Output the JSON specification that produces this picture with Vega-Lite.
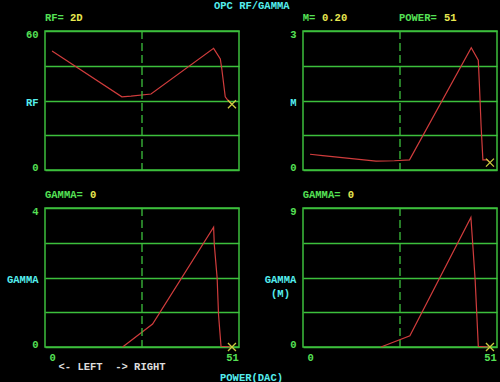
{
  "$schema": "https://vega.github.io/schema/vega-lite/v6.json",
  "background": "#000000",
  "padding": {"left": 5, "top": 0, "right": 3, "bottom": 0},
  "title": {"text": "OPC RF/GAMMA", "color": "#55eeee", "font": "Liberation Mono", "fontSize": 10.5, "fontWeight": "bold", "anchor": "middle", "offset": 1},
  "columns": 2,
  "spacing": {"row": 38, "column": 64},
  "bounds": "flush",
  "concat": [
    {
      "width": 194, "height": 139,
      "layer": [
        {
          "data": {"values": [
            {"x": 0, "y": 51.4}, {"x": 19.8, "y": 31.6}, {"x": 22.4, "y": 31.9}, {"x": 28.05, "y": 32.8},
            {"x": 45.8, "y": 52.5}, {"x": 47.7, "y": 47.9}, {"x": 48.1, "y": 43.9}, {"x": 49.1, "y": 31.6},
            {"x": 49.8, "y": 30.2}, {"x": 51, "y": 28.4}
          ]},
          "mark": {"type": "line", "color": "#d03c3c", "strokeWidth": 1.2},
          "encoding": {
            "x": {"field": "x", "type": "quantitative", "scale": {"domain": [-2, 53], "nice": false, "zero": false}, "axis": null},
            "y": {"field": "y", "type": "quantitative", "scale": {"domain": [0, 60], "nice": false},
                  "axis": {"values": [0, 15, 30, 45, 60], "tickCount": 10, "labelExpr": "datum.value == 0 ? '0' : datum.value == 60 ? '60' : ''",
                           "labelFlush": true, "labelFlushOffset": 2, "labelPadding": 7, "grid": true,
                           "title": "RF", "titleAngle": 0, "titleAlign": "right", "titleBaseline": "middle", "titleX": -7, "titleY": 71, "titleColor": "#55eeee"}}
          }
        },
        {
          "data": {"values": [{"x": 25.5}]},
          "mark": {"type": "rule", "color": "#3cbf3c", "strokeWidth": 1.3, "strokeDash": [8, 4]},
          "encoding": {"x": {"field": "x", "type": "quantitative"}}
        },
        {
          "data": {"values": [{"x": 51, "y": 28.4}]},
          "mark": {"type": "point", "shape": "M-1,-1L1,1M1,-1L-1,1", "size": 64, "filled": false, "color": "#cccc40", "strokeWidth": 1.3, "opacity": 1},
          "encoding": {"x": {"field": "x", "type": "quantitative"}, "y": {"field": "y", "type": "quantitative"}}
        },
        {
          "data": {"values": [
            {"x": -2, "y": 65.6, "t": "RF=", "k": "label"}, {"x": 5.09, "y": 65.6, "t": "2D", "k": "value"}
          ]},
          "mark": {"type": "text", "font": "Liberation Mono", "fontSize": 10.5, "fontWeight": "bold", "align": "left", "baseline": "middle"},
          "encoding": {
            "x": {"field": "x", "type": "quantitative"},
            "y": {"field": "y", "type": "quantitative"},
            "text": {"field": "t"},
            "color": {"field": "k", "type": "nominal", "scale": {"domain": ["label", "value"], "range": ["#55e055", "#e8e850"]}, "legend": null}
          }
        }
      ]
    },
    {
      "width": 194, "height": 139,
      "layer": [
        {
          "data": {"values": [
            {"x": 0, "y": 0.34}, {"x": 3.6, "y": 0.31}, {"x": 18.7, "y": 0.19}, {"x": 23.9, "y": 0.2}, {"x": 28.2, "y": 0.22},
            {"x": 45.7, "y": 2.64}, {"x": 47.7, "y": 2.37}, {"x": 48.0, "y": 1.86}, {"x": 48.5, "y": 0.94}, {"x": 49.0, "y": 0.22},
            {"x": 50.3, "y": 0.22}, {"x": 51, "y": 0.16}
          ]},
          "mark": {"type": "line", "color": "#d03c3c", "strokeWidth": 1.2},
          "encoding": {
            "x": {"field": "x", "type": "quantitative", "scale": {"domain": [-2, 53], "nice": false, "zero": false}, "axis": null},
            "y": {"field": "y", "type": "quantitative", "scale": {"domain": [0, 3], "nice": false},
                  "axis": {"values": [0, 0.75, 1.5, 2.25, 3], "tickCount": 10, "labelExpr": "datum.value == 0 ? '0' : datum.value == 3 ? '3' : ''",
                           "labelFlush": true, "labelFlushOffset": 2, "labelPadding": 7, "grid": true,
                           "title": "M", "titleAngle": 0, "titleAlign": "right", "titleBaseline": "middle", "titleX": -7, "titleY": 71, "titleColor": "#55eeee"}}
          }
        },
        {
          "data": {"values": [{"x": 25.5}]},
          "mark": {"type": "rule", "color": "#3cbf3c", "strokeWidth": 1.3, "strokeDash": [8, 4]},
          "encoding": {"x": {"field": "x", "type": "quantitative"}}
        },
        {
          "data": {"values": [{"x": 51, "y": 0.16}]},
          "mark": {"type": "point", "shape": "M-1,-1L1,1M1,-1L-1,1", "size": 64, "filled": false, "color": "#cccc40", "strokeWidth": 1.3, "opacity": 1},
          "encoding": {"x": {"field": "x", "type": "quantitative"}, "y": {"field": "y", "type": "quantitative"}}
        },
        {
          "data": {"values": [
            {"x": -2.08, "y": 3.28, "t": "M=", "k": "label"}, {"x": 3.39, "y": 3.28, "t": "0.20", "k": "value"},
            {"x": 25.2, "y": 3.28, "t": "POWER=", "k": "label"}, {"x": 37.97, "y": 3.28, "t": "51", "k": "value"}
          ]},
          "mark": {"type": "text", "font": "Liberation Mono", "fontSize": 10.5, "fontWeight": "bold", "align": "left", "baseline": "middle"},
          "encoding": {
            "x": {"field": "x", "type": "quantitative"},
            "y": {"field": "y", "type": "quantitative"},
            "text": {"field": "t"},
            "color": {"field": "k", "type": "nominal", "scale": {"domain": ["label", "value"], "range": ["#55e055", "#e8e850"]}, "legend": null}
          }
        }
      ]
    },
    {
      "width": 194, "height": 139,
      "layer": [
        {
          "data": {"values": [
            {"x": 20.0, "y": 0}, {"x": 28.5, "y": 0.66}, {"x": 45.8, "y": 3.45}, {"x": 46.0, "y": 2.94}, {"x": 46.8, "y": 1.99},
            {"x": 47.2, "y": 0.93}, {"x": 47.9, "y": 0.02}, {"x": 51, "y": 0}
          ]},
          "mark": {"type": "line", "color": "#d03c3c", "strokeWidth": 1.2},
          "encoding": {
            "x": {"field": "x", "type": "quantitative", "scale": {"domain": [-2, 53], "nice": false, "zero": false},
                  "axis": {"values": [0, 51], "format": "d", "labelPadding": 5, "labelFlush": false, "grid": false,
                           "title": "<- LEFT\u00a0\u00a0-> RIGHT", "titleColor": "#dddddd", "titleAlign": "left", "titleBaseline": "middle", "titleX": 13, "titleY": 19.4}},
            "y": {"field": "y", "type": "quantitative", "scale": {"domain": [0, 4], "nice": false},
                  "axis": {"values": [0, 1, 2, 3, 4], "tickCount": 10, "labelExpr": "datum.value == 0 ? '0' : datum.value == 4 ? '4' : ''",
                           "labelFlush": true, "labelFlushOffset": 2, "labelPadding": 7, "grid": true,
                           "title": "GAMMA", "titleAngle": 0, "titleAlign": "right", "titleBaseline": "middle", "titleX": -7, "titleY": 71.7, "titleColor": "#55eeee"}}
          }
        },
        {
          "data": {"values": [{"x": 25.5}]},
          "mark": {"type": "rule", "color": "#3cbf3c", "strokeWidth": 1.3, "strokeDash": [8, 4]},
          "encoding": {"x": {"field": "x", "type": "quantitative"}}
        },
        {
          "data": {"values": [{"x": 51, "y": 0}]},
          "mark": {"type": "point", "shape": "M-1,-1L1,1M1,-1L-1,1", "size": 64, "filled": false, "color": "#cccc40", "strokeWidth": 1.3, "opacity": 1},
          "encoding": {"x": {"field": "x", "type": "quantitative"}, "y": {"field": "y", "type": "quantitative"}}
        },
        {
          "data": {"values": [
            {"x": -2, "y": 4.363, "t": "GAMMA=", "k": "label"}, {"x": 10.76, "y": 4.363, "t": "0", "k": "value"}
          ]},
          "mark": {"type": "text", "font": "Liberation Mono", "fontSize": 10.5, "fontWeight": "bold", "align": "left", "baseline": "middle"},
          "encoding": {
            "x": {"field": "x", "type": "quantitative"},
            "y": {"field": "y", "type": "quantitative"},
            "text": {"field": "t"},
            "color": {"field": "k", "type": "nominal", "scale": {"domain": ["label", "value"], "range": ["#55e055", "#e8e850"]}, "legend": null}
          }
        }
      ]
    },
    {
      "width": 194, "height": 139,
      "layer": [
        {
          "data": {"values": [
            {"x": 20.1, "y": 0}, {"x": 28.3, "y": 0.73}, {"x": 45.6, "y": 8.39}, {"x": 46.1, "y": 6.73}, {"x": 46.8, "y": 4.36},
            {"x": 47.3, "y": 1.98}, {"x": 47.7, "y": 0.04}, {"x": 51, "y": 0}
          ]},
          "mark": {"type": "line", "color": "#d03c3c", "strokeWidth": 1.2},
          "encoding": {
            "x": {"field": "x", "type": "quantitative", "scale": {"domain": [-2, 53], "nice": false, "zero": false},
                  "axis": {"values": [0, 51], "format": "d", "labelPadding": 5, "labelFlush": false, "grid": false,
                           "title": "POWER(DAC)", "titleColor": "#55eeee", "titleAlign": "center", "titleBaseline": "middle", "titleX": -52, "titleY": 30}},
            "y": {"field": "y", "type": "quantitative", "scale": {"domain": [0, 9], "nice": false},
                  "axis": {"values": [0, 2.25, 4.5, 6.75, 9], "tickCount": 10, "labelExpr": "datum.value == 0 ? '0' : datum.value == 9 ? '9' : ''",
                           "labelFlush": true, "labelFlushOffset": 2, "labelPadding": 7, "grid": true,
                           "title": ["GAMMA", "(M)"], "titleLineHeight": 13.4, "titleAngle": 0, "titleAlign": "center", "titleBaseline": "middle", "titleX": -23, "titleY": 71.7, "titleColor": "#55eeee"}}
          }
        },
        {
          "data": {"values": [{"x": 25.5}]},
          "mark": {"type": "rule", "color": "#3cbf3c", "strokeWidth": 1.3, "strokeDash": [8, 4]},
          "encoding": {"x": {"field": "x", "type": "quantitative"}}
        },
        {
          "data": {"values": [{"x": 51, "y": 0}]},
          "mark": {"type": "point", "shape": "M-1,-1L1,1M1,-1L-1,1", "size": 64, "filled": false, "color": "#cccc40", "strokeWidth": 1.3, "opacity": 1},
          "encoding": {"x": {"field": "x", "type": "quantitative"}, "y": {"field": "y", "type": "quantitative"}}
        },
        {
          "data": {"values": [
            {"x": -2.08, "y": 9.816, "t": "GAMMA=", "k": "label"}, {"x": 10.67, "y": 9.816, "t": "0", "k": "value"}
          ]},
          "mark": {"type": "text", "font": "Liberation Mono", "fontSize": 10.5, "fontWeight": "bold", "align": "left", "baseline": "middle"},
          "encoding": {
            "x": {"field": "x", "type": "quantitative"},
            "y": {"field": "y", "type": "quantitative"},
            "text": {"field": "t"},
            "color": {"field": "k", "type": "nominal", "scale": {"domain": ["label", "value"], "range": ["#55e055", "#e8e850"]}, "legend": null}
          }
        }
      ]
    }
  ],
  "config": {
    "view": {"stroke": "#3cbf3c", "strokeWidth": 1.5},
    "axis": {
      "labelFont": "Liberation Mono", "labelFontSize": 10.5, "labelFontWeight": "bold", "labelColor": "#55e055",
      "titleFont": "Liberation Mono", "titleFontSize": 10.5, "titleFontWeight": "bold",
      "domain": false, "ticks": false, "gridColor": "#3cbf3c", "gridWidth": 1.3, "gridOpacity": 1
    }
  }
}
